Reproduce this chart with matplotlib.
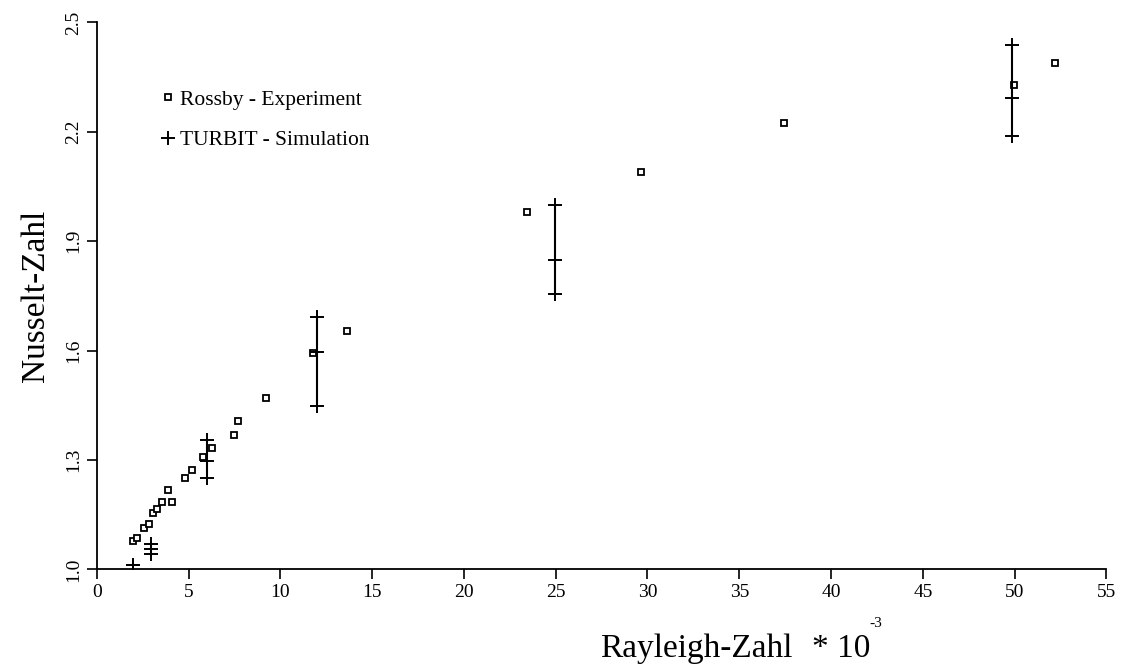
import matplotlib.pyplot as plt

plt.rcParams['font.family'] = ['Liberation Serif', 'DejaVu Serif']

# Rossby - Experiment (Ra * 1e-3, Nu)
rossby_ra = [1.99, 2.18, 2.59, 2.86, 3.08, 3.30, 3.54, 3.90, 4.08, 4.81, 5.21,
             5.77, 6.28, 7.49, 7.68, 9.20, 11.80, 13.65, 23.42, 29.64, 37.44,
             49.97, 52.2]
rossby_nu = [1.078, 1.085, 1.113, 1.125, 1.154, 1.165, 1.186, 1.218, 1.186,
             1.252, 1.274, 1.309, 1.334, 1.370, 1.406, 1.471, 1.594, 1.654,
             1.980, 2.090, 2.224, 2.329, 2.39]

# TURBIT - Simulation (mean with min / max)
sim_ra = [1.98, 2.96, 5.99, 11.98, 24.96, 49.88]
sim_mid = [1.012, 1.056, 1.298, 1.595, 1.848, 2.294]
sim_lo = [1.012, 1.042, 1.250, 1.448, 1.755, 2.188]
sim_hi = [1.012, 1.070, 1.355, 1.691, 2.000, 2.437]

xticks = [0, 5, 10, 15, 20, 25, 30, 35, 40, 45, 50, 55]
yticks = [1.0, 1.3, 1.6, 1.9, 2.2, 2.5]

fig = plt.figure(figsize=(11.29, 6.67), dpi=100)
ax = fig.add_axes([0.0857, 0.1462, 0.8943, 0.8202])

ax.plot(rossby_ra, rossby_nu, linestyle='none', marker='s', markersize=5,
        markerfacecolor='white', markeredgecolor='black', markeredgewidth=1.3,
        label='Rossby - Experiment')

ax.vlines(sim_ra, sim_lo, sim_hi, color='black', linewidth=1.5)
ax.plot(sim_ra, sim_lo, linestyle='none', marker='+', markersize=10,
        markeredgewidth=1.4, color='black')
ax.plot(sim_ra, sim_hi, linestyle='none', marker='+', markersize=10,
        markeredgewidth=1.4, color='black')
ax.plot(sim_ra, sim_mid, linestyle='none', marker='+', markersize=10,
        markeredgewidth=1.4, color='black', label='TURBIT - Simulation')

ax.set_xlim(0, 55)
ax.set_ylim(1.0, 2.5)
ax.set_xticks(xticks)
ax.set_yticks(yticks)
ax.set_yticklabels([f'{v:.1f}' for v in yticks], rotation=90, va='center')
ax.tick_params(direction='out', length=7, width=1.2, labelsize=14)

ax.spines['top'].set_visible(False)
ax.spines['right'].set_visible(False)
ax.spines['left'].set_linewidth(1.3)
ax.spines['bottom'].set_linewidth(1.3)

ax.set_ylabel('Nusselt-Zahl', fontsize=24, labelpad=10)

fig.text(600 / 1129, 1 - 657 / 667, 'Rayleigh-Zahl', fontsize=24,
         ha='left', va='baseline')
fig.text(812 / 1129, 1 - 657 / 667, '* 10', fontsize=24,
         ha='left', va='baseline')
fig.text(869 / 1129, 1 - 627 / 667, '-3', fontsize=11,
         ha='left', va='baseline')

ax.legend(loc='upper left', bbox_to_anchor=(0.052, 0.893), frameon=False,
          fontsize=15.5, handletextpad=0.15, handlelength=0.9, labelspacing=0.95,
          borderaxespad=0)

fig.savefig('out.png', dpi=100)
